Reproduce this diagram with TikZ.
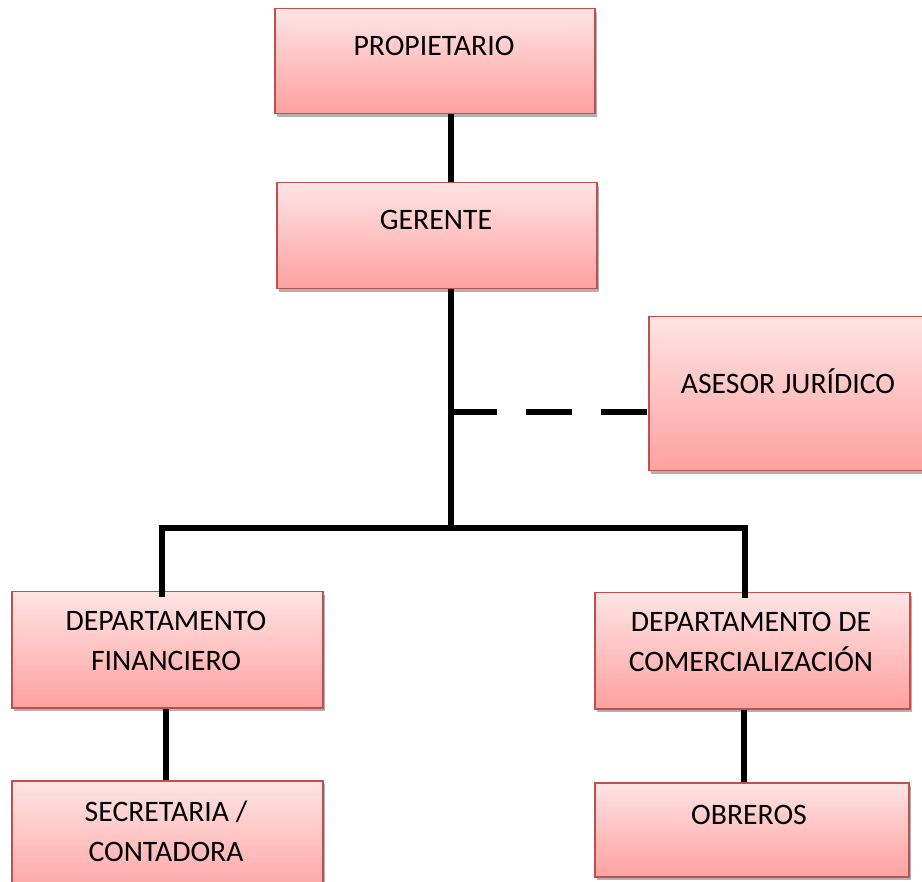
\documentclass[tikz,border=0pt]{standalone}
\usepackage{fontspec}
\setmainfont{Carlito}
\usetikzlibrary{shadows}
\definecolor{boxborder}{RGB}{192,80,77}
\definecolor{boxtop}{RGB}{255,228,228}
\definecolor{boxbottom}{RGB}{255,160,160}
\tikzset{
  orgbox/.style={rectangle, draw=boxborder, line width=1.5pt, top color=boxtop, bottom color=boxbottom,
    drop shadow={shadow xshift=2pt, shadow yshift=-3pt, opacity=0.3, fill=black}, inner sep=0pt},
  lbl/.style={inner sep=0pt, align=center, font=\fontsize{29.7}{40}\selectfont},
  conn/.style={line width=6pt, black},
  dashconn/.style={line width=6pt, black, dash pattern=on 46pt off 29pt}
}
\begin{document}
\begin{tikzpicture}[x=1pt,y=-1pt]
\useasboundingbox (0,0) rectangle (922,882);
% boxes
\node[orgbox, anchor=north west, minimum width=320pt, minimum height=105pt] (prop) at (274,8) {};
\node[orgbox, anchor=north west, minimum width=320pt, minimum height=106pt] (ger) at (276,182) {};
\node[orgbox, anchor=north west, minimum width=276pt, minimum height=154pt] (ases) at (648,316) {};
\node[orgbox, anchor=north west, minimum width=311pt, minimum height=116pt] (fin) at (11,591) {};
\node[orgbox, anchor=north west, minimum width=315pt, minimum height=116pt] (com) at (594,592) {};
\node[orgbox, anchor=north west, minimum width=311pt, minimum height=120pt] (sec) at (11,780) {};
\node[orgbox, anchor=north west, minimum width=314pt, minimum height=94pt] (obr) at (594,782) {};
% labels
\node[lbl] (tprop) at (434,46) {PROPIETARIO};
\node[lbl] (tger) at (436,220) {GERENTE};
\node[lbl] (tases) at (788,381) {ASESOR JURÍDICO};
\node[lbl] (tfin) at (166,641) {DEPARTAMENTO\\FINANCIERO};
\node[lbl] (tcom) at (751,642) {DEPARTAMENTO DE\\COMERCIALIZACIÓN};
\node[lbl] (tsec) at (166,831) {SECRETARIA /\\CONTADORA};
\node[lbl] (tobr) at (749,815) {OBREROS};
% connector coordinates
\coordinate (trunk) at (451,0);
\coordinate (bus) at (0,528);
\coordinate (bl) at (162,528);
\coordinate (br) at (745,528);
\coordinate (adv) at (0,412);
\coordinate (lx) at (166,0);
\coordinate (rx) at (744,0);
% connectors
\draw[conn] (prop.south -| trunk) -- (ger.north -| trunk);
\draw[conn] (ger.south -| trunk) -- (bus -| trunk);
\draw[conn] ([xshift=-3pt]bl) -- ([xshift=3pt]br);
\draw[conn] (bl) -- ([yshift=-6pt]fin.north -| bl);
\draw[conn] (br) -- ([yshift=-6pt]com.north -| br);
\draw[dashconn] (adv -| trunk) -- (adv -| ases.west);
\draw[conn] (fin.south -| lx) -- (sec.north -| lx);
\draw[conn] (com.south -| rx) -- (obr.north -| rx);
\end{tikzpicture}
\end{document}
